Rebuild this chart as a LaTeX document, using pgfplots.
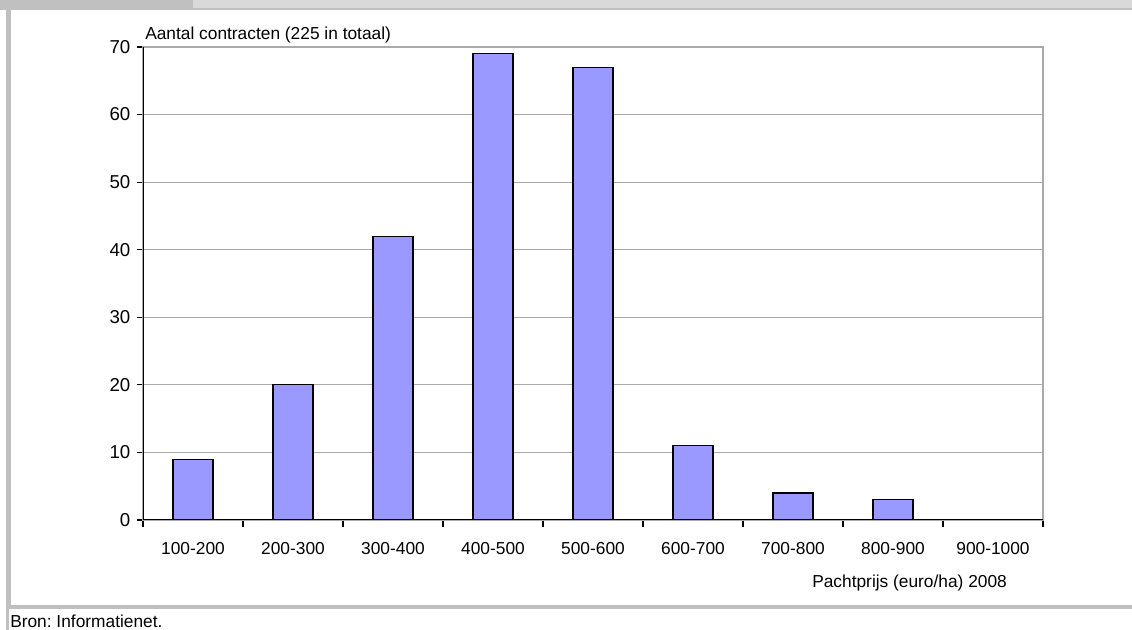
\documentclass[border=0pt]{standalone}
\usepackage{fontspec}
\setmainfont{Liberation Sans}
\usepackage{pgfplots}
\pgfplotsset{compat=1.18}
\definecolor{barblue}{RGB}{153,153,255}
\definecolor{framegray}{RGB}{192,192,192}
\definecolor{stripgray}{RGB}{217,217,217}
\definecolor{gridgray}{RGB}{170,170,170}
\newcommand{\lbl}{\fontsize{13}{15}\selectfont}
\frenchspacing
\begin{document}
\begin{tikzpicture}
% page frame (1px = 0.75pt)
\path[use as bounding box] (0,0) rectangle (849pt,472.5pt);
\fill[stripgray] (0,466.5pt) rectangle (849pt,472.5pt);
\fill[framegray] (0,465pt) rectangle (849pt,466.5pt);
\fill[framegray] (0,465pt) rectangle (144.75pt,472.5pt);
\fill[framegray] (4.5pt,17pt) rectangle (8.25pt,465pt);
\fill[framegray] (4.5pt,0pt) rectangle (6.75pt,17pt);
\fill[framegray] (4.5pt,15.75pt) rectangle (849pt,18.75pt);

\begin{axis}[
    at={(107.25pt,82.5pt)}, anchor=south west,
    scale only axis, width=675pt, height=354.75pt,
    ybar, bar width=0.4, bar shift=0pt,
    xmin=-0.5, xmax=8.5, ymin=0, ymax=70,
    xtick={0,...,8},
    xticklabels={100-200,200-300,300-400,400-500,500-600,600-700,700-800,800-900,900-1000},
    minor xtick={-0.5,0.5,...,8.5},
    ytick={0,10,...,70},
    major x tick style={draw=none},
    tick align=outside,
    major tick length=4.5pt, minor tick length=5pt,
    ytick pos=left, xtick pos=bottom,
    tick style={black, line width=0.8pt},
    ymajorgrids, grid style={gridgray, line width=0.9pt},
    axis line style={gridgray, line width=1.1pt},
    tick label style={font=\lbl},
    yticklabel style={font=\fontsize{14}{16}\selectfont, xshift=-1.5pt},
    /pgf/number format/assume math mode=true,
    xticklabel style={yshift=-8.5pt},
  ]
\addplot[fill=barblue, draw=black, line width=0.9pt] coordinates {
  (0,9) (1,20) (2,42) (3,69) (4,67) (5,11) (6,4) (7,3) (8,0)};
\draw[black, line width=1pt] (rel axis cs:0,1) -- (rel axis cs:0,0) -- (rel axis cs:1,0);
\end{axis}

\node[anchor=west, inner sep=0pt, font=\lbl] at (108.75pt,446.25pt) {Aantal contracten (225 in totaal)};
\node[anchor=west, inner sep=0pt, font=\lbl] at (609pt,35.25pt) {Pachtprijs (euro/ha) 2008};
\node[anchor=west, inner sep=0pt, font=\lbl] at (7.5pt,6.5pt) {Bron: Informatienet.};
\end{tikzpicture}
\end{document}
